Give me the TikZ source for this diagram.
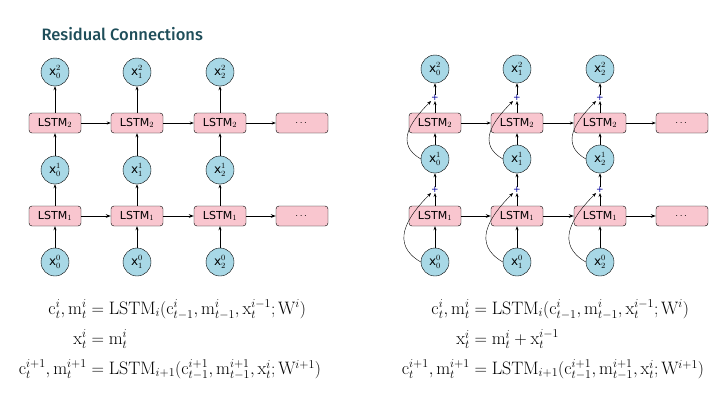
\documentclass[tikz,border=0pt]{standalone}
\usepackage{fontspec}
\usepackage{amsmath}
\newfontfamily\sans{DejaVu Sans}
\newfontfamily\titlef{Fira Sans Medium}
\usetikzlibrary{arrows.meta}
\definecolor{lb}{HTML}{A8D8E6}
\definecolor{pk}{HTML}{F9C6CF}
\definecolor{tt}{HTML}{1F4E5A}
\begin{document}
\begin{tikzpicture}[x=1pt,y=-1pt,
 circ/.style={circle,draw,fill=lb,minimum size=28pt,inner sep=0pt,font=\sans\fontsize{12}{12}\selectfont},
 lstm/.style={rounded corners=3pt,draw,fill=pk,minimum width=52pt,minimum height=20pt,inner sep=0pt,font=\sans\fontsize{11}{11}\selectfont},
 arr/.style={-{Stealth[length=5pt]},thick},
 thin arr/.style={-{Stealth[length=4pt]},semithick},
 pl/.style={text=blue!60!black,font=\sans\small,inner sep=0pt},
 eq/.style={font=\fontsize{18}{21}\selectfont}]
\useasboundingbox (0,0) rectangle (720,405);
\node[anchor=west,font=\titlef\fontsize{16.5}{18}\selectfont,text=tt] (title) at (38,34) {Residual Connections};
% left
\foreach \c/\x in {0/55,1/137,2/220}{
 \node[circ] (a0\c) at (\x,262) {x$^{0}_{\c}$};
 \node[lstm] (aL1\c) at (\x,216) {LSTM$_1$};
 \node[circ] (a1\c) at (\x,170) {x$^{1}_{\c}$};
 \node[lstm] (aL2\c) at (\x,123) {LSTM$_2$};
 \node[circ] (a2\c) at (\x,72) {x$^{2}_{\c}$};
 \draw[thin arr] (a0\c) -- (aL1\c);
 \draw[thin arr] (aL1\c) -- (a1\c);
 \draw[thin arr] (a1\c) -- (aL2\c);
 \draw[thin arr] (aL2\c) -- (a2\c);
}
\node[lstm,font=\sans\bfseries] (aD1) at (302,216) {$\cdots$};
\node[lstm,font=\sans\bfseries] (aD2) at (302,123) {$\cdots$};
\draw[arr] (aL10) -- (aL11); \draw[arr] (aL11) -- (aL12); \draw[arr] (aL12) -- (aD1);
\draw[thin arr] (aL20) -- (aL21); \draw[thin arr] (aL21) -- (aL22); \draw[thin arr] (aL22) -- (aD2);
% right
\foreach \c/\x in {0/435,1/517,2/600}{
 \node[circ] (b0\c) at (\x,262) {x$^{0}_{\c}$};
 \node[lstm] (bL1\c) at (\x,216) {LSTM$_1$};
 \node[pl] (bp1\c) at (\x,190) {+};
 \node[circ] (b1\c) at (\x,159) {x$^{1}_{\c}$};
 \node[lstm] (bL2\c) at (\x,123) {LSTM$_2$};
 \node[pl] (bp2\c) at (\x,98) {+};
 \node[circ] (b2\c) at (\x,69) {x$^{2}_{\c}$};
 \draw[thin arr] (b0\c) -- (bL1\c);
 \draw[thin arr] (bL1\c) -- (bp1\c);
 \draw[thin arr] (bp1\c) -- (b1\c);
 \draw[thin arr] (b1\c) -- (bL2\c);
 \draw[thin arr] (bL2\c) -- (bp2\c);
 \draw[thin arr] (bp2\c) -- (b2\c);
 \draw[-{Stealth[length=4pt]},thin] (b0\c.west) to[out=150,in=225,looseness=1.3] (bp1\c.south west);
 \draw[-{Stealth[length=4pt]},thin] (b1\c.west) to[out=150,in=225,looseness=1.3] (bp2\c.south west);
}
\node[lstm,font=\sans\bfseries] (bD1) at (682,216) {$\cdots$};
\node[lstm,font=\sans\bfseries] (bD2) at (682,123) {$\cdots$};
\draw[arr] (bL10) -- (bL11); \draw[arr] (bL11) -- (bL12); \draw[arr] (bL12) -- (bD1);
\draw[thin arr] (bL20) -- (bL21); \draw[thin arr] (bL21) -- (bL22); \draw[thin arr] (bL22) -- (bD2);
% equations
\node[eq] (eqL) at (170,340) {$\begin{array}{r@{\;}l}
\mathrm{c}^i_t,\mathrm{m}^i_t &= \mathrm{LSTM}_i(\mathrm{c}^i_{t-1},\mathrm{m}^i_{t-1},\mathrm{x}^{i-1}_t;\mathrm{W}^i)\\[9pt]
\mathrm{x}^i_t &= \mathrm{m}^i_t\\[9pt]
\mathrm{c}^{i+1}_t,\mathrm{m}^{i+1}_t &= \mathrm{LSTM}_{i+1}(\mathrm{c}^{i+1}_{t-1},\mathrm{m}^{i+1}_{t-1},\mathrm{x}^{i}_t;\mathrm{W}^{i+1})
\end{array}$};
\node[eq] (eqR) at (553,340) {$\begin{array}{r@{\;}l}
\mathrm{c}^i_t,\mathrm{m}^i_t &= \mathrm{LSTM}_i(\mathrm{c}^i_{t-1},\mathrm{m}^i_{t-1},\mathrm{x}^{i-1}_t;\mathrm{W}^i)\\[9pt]
\mathrm{x}^i_t &= \mathrm{m}^i_t+\mathrm{x}^{i-1}_t\\[9pt]
\mathrm{c}^{i+1}_t,\mathrm{m}^{i+1}_t &= \mathrm{LSTM}_{i+1}(\mathrm{c}^{i+1}_{t-1},\mathrm{m}^{i+1}_{t-1},\mathrm{x}^{i}_t;\mathrm{W}^{i+1})
\end{array}$};
\end{tikzpicture}
\end{document}
